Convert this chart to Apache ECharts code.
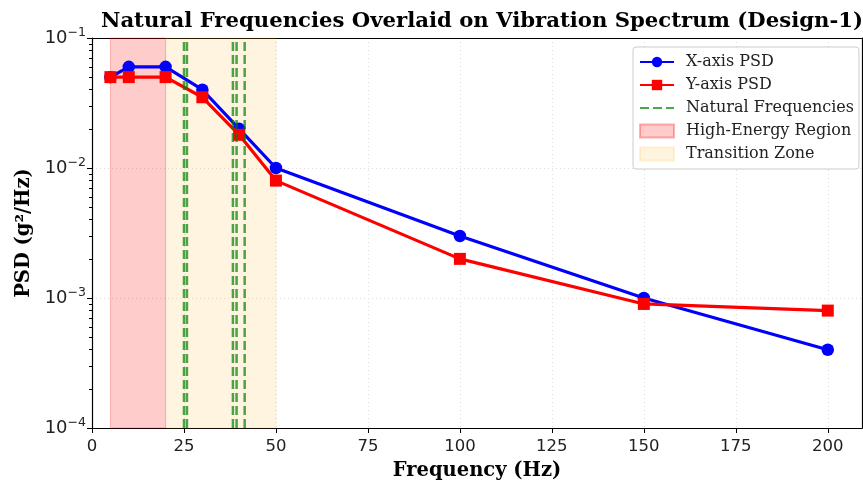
<!DOCTYPE html>
<html><head><meta charset="utf-8">
<script src="https://cdn.jsdelivr.net/npm/echarts@6/dist/echarts.min.js"></script>
<style>html,body{margin:0;padding:0;background:#fff}#c{width:863px;height:484px}</style>
</head><body><div id="c"></div>
<script>
var freqs = [5, 10, 20, 30, 40, 50, 100, 150, 200];
var xPSD = [0.05, 0.06, 0.06, 0.04, 0.02, 0.01, 0.003, 0.001, 0.0004];
var yPSD = [0.05, 0.05, 0.05, 0.035, 0.018, 0.008, 0.002, 0.0009, 0.0008];
var naturalFreqs = [25.0, 25.8, 38.3, 39.3, 41.5];
var highEnergy = [5, 20];
var transition = [20, 50];
var xTicks = [0, 25, 50, 75, 100, 125, 150, 175, 200];
var yMajor = [1e-4, 1e-3, 1e-2, 1e-1];
var yMinor = [];
[1e-4, 1e-3, 1e-2].forEach(function (d) { for (var k = 2; k <= 9; k++) yMinor.push(+(d * k).toPrecision(3)); });

var serif = 'DejaVu Serif';
var sans = 'DejaVu Sans';
var chart = echarts.init(document.getElementById('c'));
var series = [];
series.push({
  name: 'High-Energy Region', type: 'line', data: [], z: 1,
  itemStyle: { color: 'rgba(255,0,0,0.2)', borderColor: 'rgba(255,0,0,0.3)', borderWidth: 1 },
  markArea: { silent: true, itemStyle: { color: 'rgba(255,0,0,0.2)', borderColor: 'rgba(255,0,0,0.25)', borderWidth: 1 },
    data: [[{ xAxis: highEnergy[0] }, { xAxis: highEnergy[1] }]] }
});
series.push({
  name: 'Transition Zone', type: 'line', data: [], z: 1,
  itemStyle: { color: 'rgba(255,165,0,0.12)', borderColor: 'rgba(255,165,0,0.15)', borderWidth: 1 },
  markArea: { silent: true, itemStyle: { color: 'rgba(255,165,0,0.12)', borderColor: 'rgba(255,165,0,0.15)', borderWidth: 1 },
    data: [[{ xAxis: transition[0] }, { xAxis: transition[1] }]] }
});
series.push({
  name: 'X-axis PSD', type: 'line', z: 3,
  data: freqs.map(function (f, i) { return [f, xPSD[i]]; }),
  symbol: 'circle', symbolSize: 12.5, color: '#0000ff',
  lineStyle: { width: 3.2, color: '#0000ff' }, itemStyle: { color: '#0000ff' }
});
series.push({
  name: 'Y-axis PSD', type: 'line', z: 4,
  data: freqs.map(function (f, i) { return [f, yPSD[i]]; }),
  symbol: 'rect', symbolSize: 12, color: '#ff0000',
  lineStyle: { width: 3.2, color: '#ff0000' }, itemStyle: { color: '#ff0000' }
});
naturalFreqs.forEach(function (f) {
  series.push({
    name: 'Natural Frequencies', type: 'line', z: 5, symbol: 'none',
    data: [[f, yMajor[0]], [f, yMajor[yMajor.length - 1]]],
    color: 'rgba(0,128,0,0.7)',
    lineStyle: { width: 2.5, type: [9, 4], color: 'rgba(0,128,0,0.7)' },
    itemStyle: { color: 'rgba(0,128,0,0.7)' }
  });
});

chart.setOption({
  animation: false,
  title: { text: 'Natural Frequencies Overlaid on Vibration Spectrum (Design-1)', left: 477, textAlign: 'center', top: 6,
    textStyle: { fontFamily: serif, fontWeight: 'bold', fontSize: 21.2, color: '#000' } },
  grid: { left: 92, right: 1, top: 38, bottom: 56, show: false, outerBoundsMode: 'none', containLabel: false },
  legend: {
    left: 633, top: 47, orient: 'vertical', padding: [7, 5, 7, 6],
    itemWidth: 34, itemHeight: 13, itemGap: 7,
    backgroundColor: 'rgba(255,255,255,0.85)', borderColor: '#cccccc', borderWidth: 1, borderRadius: 3,
    textStyle: { fontFamily: serif, fontSize: 16, color: '#222', padding: [0, 0, 0, 7] },
    data: [
      { name: 'X-axis PSD' }, { name: 'Y-axis PSD' }, { name: 'Natural Frequencies', itemStyle: { opacity: 0 } },
      { name: 'High-Energy Region', icon: 'rect' }, { name: 'Transition Zone', icon: 'rect' }
    ]
  },
  xAxis: [{
    type: 'value', min: 0, max: 209.3,
    name: 'Frequency (Hz)', nameLocation: 'middle', nameGap: 33,
    nameTextStyle: { fontFamily: serif, fontWeight: 'bold', fontSize: 19.5, color: '#000' },
    axisLine: { lineStyle: { color: '#000', width: 1.2 } },
    axisTick: { inside: false, length: 5, lineStyle: { color: '#000' }, customValues: xTicks },
    axisLabel: { fontFamily: sans, fontSize: 16.5, color: '#222', margin: 10, customValues: xTicks },
    splitLine: { show: true, lineStyle: { color: '#dddddd', type: [1, 3], width: 1 } }
  }, {
    type: 'value', min: 0, max: 209.3, position: 'top',
    axisLine: { show: true, onZero: false, lineStyle: { color: '#000', width: 1.2 } },
    axisTick: { show: false }, axisLabel: { show: false }, splitLine: { show: false }
  }],
  yAxis: [{
    type: 'log', logBase: 10, min: 1e-4, max: 1e-1,
    name: 'PSD (g²/Hz)', nameLocation: 'middle', nameGap: 58,
    nameTextStyle: { fontFamily: serif, fontWeight: 'bold', fontSize: 19.5, color: '#000' },
    axisLine: { show: true, lineStyle: { color: '#000', width: 1.2 } },
    axisTick: { show: true, inside: false, length: 5, lineStyle: { color: '#000' } },
    axisLabel: { margin: 6, color: '#222',
      formatter: function (v) { var e = Math.round(Math.log10(v)); return '{b|10}{s|−' + Math.abs(e) + '}'; },
      rich: { b: { fontFamily: sans, fontSize: 18, color: '#222' },
              s: { fontFamily: sans, fontSize: 12.5, color: '#222', verticalAlign: 'top', padding: [0, 0, 10, 0] } } },
    splitLine: { show: true, lineStyle: { color: '#dddddd', type: [1, 3], width: 1 } }
  }, {
    type: 'log', logBase: 10, min: 1e-4, max: 1e-1, position: 'left',
    axisLine: { show: false },
    axisTick: { show: true, inside: false, length: 3, lineStyle: { color: '#000' }, customValues: yMinor },
    axisLabel: { show: false },
    splitLine: { show: false }
  }, {
    type: 'log', logBase: 10, min: 1e-4, max: 1e-1, position: 'right',
    axisLine: { show: true, lineStyle: { color: '#000', width: 1.2 } },
    axisTick: { show: false }, axisLabel: { show: false }, splitLine: { show: false }
  }],
  series: series
});
</script></body></html>
